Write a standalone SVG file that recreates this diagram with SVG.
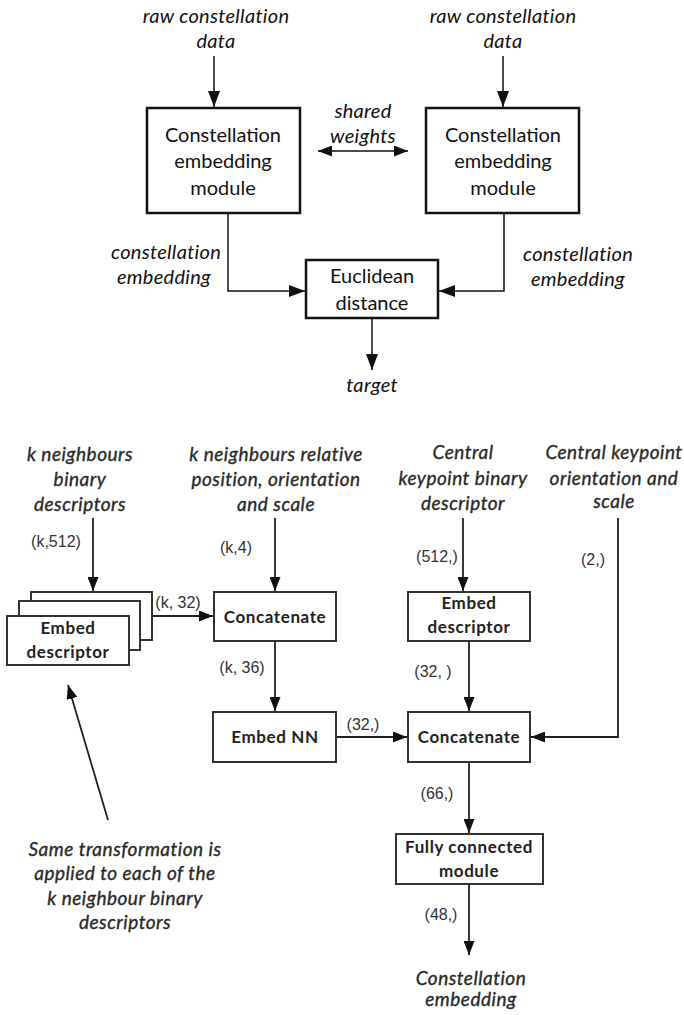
<svg xmlns="http://www.w3.org/2000/svg" width="684" height="1015" viewBox="0 0 684 1015">
<style>
.it{font-family:Lato,"Open Sans",sans-serif;font-style:italic;font-size:20px;fill:#111;text-anchor:middle;letter-spacing:0.3px}
.bx{font-family:Lato,"Open Sans",sans-serif;font-size:20px;fill:#111;text-anchor:middle}
.it2{font-family:Lato,"Open Sans",sans-serif;font-style:italic;font-size:19px;fill:#2a2a2a;stroke:#2a2a2a;stroke-width:0.35;text-anchor:middle;letter-spacing:0.5px}
.bb{font-family:Lato,"Open Sans",sans-serif;font-weight:bold;font-size:17px;fill:#222;text-anchor:middle;letter-spacing:0.6px}
.dim{font-family:"Liberation Sans",Arial,sans-serif;font-size:16px;fill:#333;text-anchor:middle}
.b1{fill:#fff;stroke:#111;stroke-width:2.5}
.b2{fill:#fff;stroke:#333;stroke-width:2}
.ln{fill:none;stroke:#111;stroke-width:1.5}
.ln2{fill:none;stroke:#222;stroke-width:1.8}
</style>
<defs>
<marker id="ah" viewBox="0 0 16 12" refX="16" refY="6" markerWidth="16" markerHeight="12" markerUnits="userSpaceOnUse" orient="auto-start-reverse"><path d="M0,0 L16,6 L0,12 z" fill="#111"/></marker>
<marker id="ah2" viewBox="0 0 14 11" refX="14" refY="5.5" markerWidth="14" markerHeight="11" markerUnits="userSpaceOnUse" orient="auto-start-reverse"><path d="M0,0 L14,5.5 L0,11 z" fill="#111"/></marker>
</defs>

<g id="connectors">
<line class="ln" x1="214" y1="56" x2="214" y2="107" marker-end="url(#ah)"/>
<line class="ln" x1="503" y1="56" x2="503" y2="107" marker-end="url(#ah)"/>
<line class="ln" x1="318" y1="151" x2="408" y2="151" marker-start="url(#ah2)" marker-end="url(#ah2)"/>
<polyline class="ln" points="228,213 228,291 305,291" marker-end="url(#ah)"/>
<polyline class="ln" points="504,213 504,291 439,291" marker-end="url(#ah)"/>
<line class="ln" x1="372" y1="319" x2="372" y2="370" marker-end="url(#ah)"/>

<line class="ln2" x1="93" y1="518" x2="93" y2="591" marker-end="url(#ah2)"/>
<line class="ln2" x1="152" y1="616" x2="213" y2="616" marker-end="url(#ah2)"/>
<line class="ln2" x1="275" y1="518" x2="275" y2="591" marker-end="url(#ah2)"/>
<line class="ln2" x1="463" y1="518" x2="463" y2="591" marker-end="url(#ah2)"/>
<line class="ln2" x1="275" y1="641" x2="275" y2="711" marker-end="url(#ah2)"/>
<line class="ln2" x1="336" y1="737" x2="407" y2="737" marker-end="url(#ah2)"/>
<line class="ln2" x1="469" y1="641" x2="469" y2="711" marker-end="url(#ah2)"/>
<polyline class="ln2" points="618,518 618,737 531,737" marker-end="url(#ah2)"/>
<line class="ln2" x1="469" y1="762" x2="469" y2="833" marker-end="url(#ah2)"/>
<line class="ln2" x1="469" y1="884" x2="469" y2="955" marker-end="url(#ah2)"/>
<line class="ln2" x1="108" y1="820" x2="68" y2="685" marker-end="url(#ah2)"/>
</g>

<g id="lbl-raw-left"><text class="it" x="216" y="23">raw constellation</text><text class="it" x="216" y="48">data</text></g>
<g id="lbl-raw-right"><text class="it" x="503" y="23">raw constellation</text><text class="it" x="503" y="48">data</text></g>
<g id="lbl-shared"><text class="it" x="363" y="118">shared</text><text class="it" x="363" y="143">weights</text></g>

<g id="cem-left"><rect class="b1" x="147" y="108" width="153" height="105"/>
<text class="bx" x="223" y="142">Constellation</text><text class="bx" x="223" y="168">embedding</text><text class="bx" x="223" y="195">module</text></g>
<g id="cem-right"><rect class="b1" x="426" y="108" width="153" height="105"/>
<text class="bx" x="503" y="142">Constellation</text><text class="bx" x="503" y="168">embedding</text><text class="bx" x="503" y="195">module</text></g>

<g id="lbl-emb-left"><text class="it" x="166" y="259">constellation</text><text class="it" x="164" y="284">embedding</text></g>
<g id="lbl-emb-right"><text class="it" x="578" y="261">constellation</text><text class="it" x="578" y="286">embedding</text></g>

<g id="euclid"><rect class="b1" x="306" y="260" width="132" height="58"/>
<text class="bx" x="372" y="283">Euclidean</text><text class="bx" x="372" y="310">distance</text></g>
<g id="lbl-target"><text class="it" x="372" y="392">target</text></g>

<g id="lbl-kbin"><text class="it2" x="80" y="461">k neighbours</text><text class="it2" x="80" y="486">binary</text><text class="it2" x="80" y="511">descriptors</text></g>
<g id="lbl-krel"><text class="it2" x="276" y="461">k neighbours relative</text><text class="it2" x="276" y="486">position, orientation</text><text class="it2" x="276" y="511">and scale</text></g>
<g id="lbl-cbin"><text class="it2" x="463" y="459">Central</text><text class="it2" x="463" y="485">keypoint binary</text><text class="it2" x="463" y="510">descriptor</text></g>
<g id="lbl-cori"><text class="it2" x="614" y="459">Central keypoint</text><text class="it2" x="614" y="485">orientation and</text><text class="it2" x="614" y="508">scale</text></g>

<g id="dims">
<text class="dim" x="56" y="547">(k,512)</text>
<text class="dim" x="236" y="553">(k,4)</text>
<text class="dim" x="437" y="562">(512,)</text>
<text class="dim" x="593" y="565">(2,)</text>
<text class="dim" x="178" y="608">(k, 32)</text>
<text class="dim" x="242" y="673">(k, 36)</text>
<text class="dim" x="433" y="677">(32, )</text>
<text class="dim" x="363" y="730">(32,)</text>
<text class="dim" x="437" y="799">(66,)</text>
<text class="dim" x="441" y="920">(48,)</text>
</g>

<g id="embed-stack">
<rect class="b2" x="31" y="592" width="121" height="48"/>
<rect class="b2" x="19" y="601" width="121" height="49"/>
<rect class="b2" x="7" y="616" width="122" height="49"/>
<text class="bb" x="68" y="634">Embed</text><text class="bb" x="68" y="658">descriptor</text>
</g>
<g id="concat1"><rect class="b2" x="214" y="592" width="122" height="49"/><text class="bb" x="275" y="623">Concatenate</text></g>
<g id="embed-desc"><rect class="b2" x="408" y="592" width="122" height="49"/><text class="bb" x="469" y="609">Embed</text><text class="bb" x="469" y="633">descriptor</text></g>
<g id="embed-nn"><rect class="b2" x="213" y="712" width="123" height="50"/><text class="bb" x="275" y="743">Embed NN</text></g>
<g id="concat2"><rect class="b2" x="408" y="712" width="122" height="50"/><text class="bb" x="469" y="743">Concatenate</text></g>
<g id="fc"><rect class="b2" x="396" y="834" width="147" height="50"/><text class="bb" x="469" y="853">Fully connected</text><text class="bb" x="469" y="877">module</text></g>
<g id="lbl-out"><text class="it2" x="471" y="985">Constellation</text><text class="it2" x="471" y="1006">embedding</text></g>
<g id="lbl-note"><text class="it2" x="125" y="856">Same transformation is</text><text class="it2" x="125" y="880">applied to each of the</text><text class="it2" x="125" y="905">k neighbour binary</text><text class="it2" x="125" y="929">descriptors</text></g>
</svg>
